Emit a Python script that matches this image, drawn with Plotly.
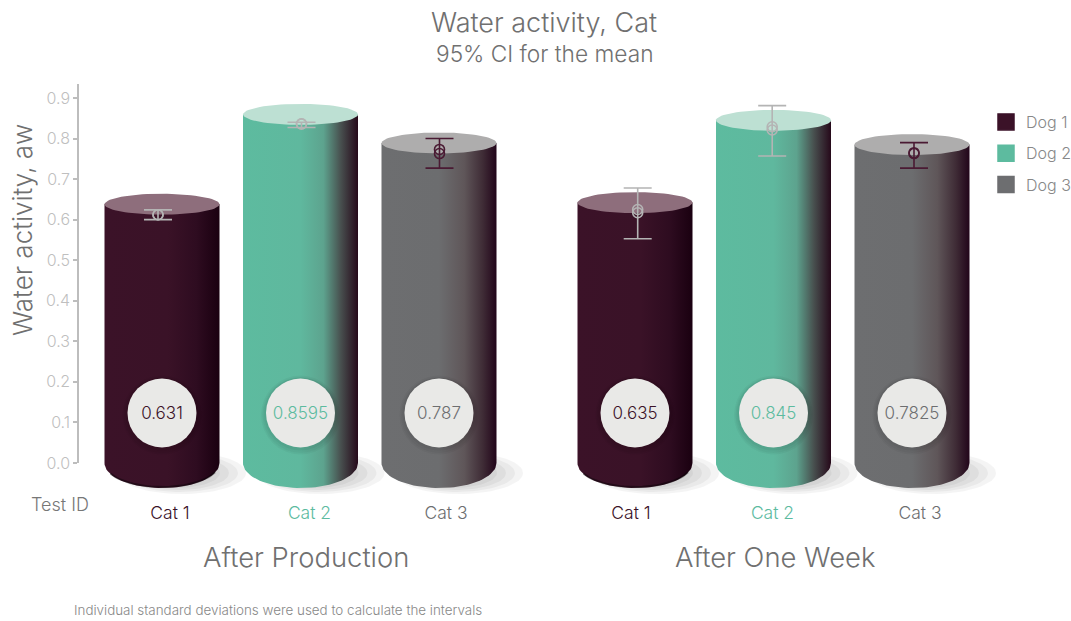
import numpy as np
import plotly.graph_objects as go

# ---- data -------------------------------------------------------------
groups = ["After Production", "After One Week"]
categories = ["Cat 1", "Cat 2", "Cat 3"]
series = ["Dog 1", "Dog 2", "Dog 3"]
labels_dog1 = [0.631, 0.635]
labels_dog2 = [0.8595, 0.845]
labels_dog3 = [0.787, 0.7825]
heights_dog1 = [0.638, 0.642]
heights_dog2 = [0.8595, 0.845]
heights_dog3 = [0.789, 0.785]
upper_dog1 = [0.624, 0.678]
upper_dog2 = [0.840, 0.881]
upper_dog3 = [0.800, 0.790]
lower_dog1 = [0.600, 0.553]
lower_dog2 = [0.827, 0.757]
lower_dog3 = [0.727, 0.727]
mean_a_dog1 = [0.612, 0.625]
mean_a_dog2 = [0.836, 0.829]
mean_a_dog3 = [0.773, 0.765]
mean_b_dog1 = [0.612, 0.617]
mean_b_dog2 = [0.836, 0.821]
mean_b_dog3 = [0.763, 0.763]
y_ticks = [0.0, 0.1, 0.2, 0.3, 0.4, 0.5, 0.6, 0.7, 0.8, 0.9]

# ---- styling ----------------------------------------------------------
FONT = "Inter"
DARK, GREEN, GRAY = "#3b1228", "#5dbb9f", "#6d6e70"
colors = [DARK, GREEN, GRAY]
top_colors = ["#8e6e7c", "#bde0d3", "#aeadad"]
err_colors = ["#b4b4b4", "#b4b4b4", "#4a1a33"]
gradients = [
    [[0, "#3b1228"], [0.55, "#3a1227"], [0.8, "#2e0c20"], [1, "#1a0010"]],
    [[0, "#5dbb9f"], [0.5, "#5fb89e"], [0.7, "#5da38e"], [0.85, "#48504f"], [1, "#26091a"]],
    [[0, "#6d6e70"], [0.5, "#6c6d6f"], [0.72, "#5f5659"], [0.88, "#3f2c36"], [1, "#22051a"]],
]
H, W = 621, 1071
LEFT, TOP, ZERO = 79, 84, 463   # page pixels of the plot's left, top and y=0
PPU = 405.6       # pixels per y unit
HALF_W = 57.5     # cylinder half width in x units (px)
RY_TOP, RY_BOT = 10.5, 25.0
group_start = [162, 635]
step = 138.5
err_off = [[-4, 1, 0.5], [2.7, -1.3, 2]]
label_off = [[8, 9, 7], [-4, -1, 8]]

labels = [labels_dog1, labels_dog2, labels_dog3]
heights = [heights_dog1, heights_dog2, heights_dog3]
upper = [upper_dog1, upper_dog2, upper_dog3]
lower = [lower_dog1, lower_dog2, lower_dog3]
mean_a = [mean_a_dog1, mean_a_dog2, mean_a_dog3]
mean_b = [mean_b_dog1, mean_b_dog2, mean_b_dog3]

fig = go.Figure()
t = np.linspace(0, 2 * np.pi, 73)
arc = np.linspace(0, np.pi, 49)

def py(pixel):
    """y value of a page pixel row."""
    return (ZERO - pixel) / PPU

def paper_y(pixel):
    return (H - pixel) / (H - TOP)

def paper_x(pixel):
    return (pixel - LEFT) / (W - LEFT)

# shadows
for g in range(2):
    for s in range(3):
        cx = group_start[g] + s * step
        for rx, ry, dx in [(64, 21, 20), (58, 19, 18), (51, 17, 16), (44, 15, 14)]:
            fig.add_trace(go.Scatter(
                x=cx + dx + rx * np.cos(t), y=py(473) + ry / PPU * np.sin(t),
                mode="lines", line=dict(width=0), fill="toself",
                fillcolor="rgba(0,0,0,0.045)", hoverinfo="skip", showlegend=False))

# cylinders
for g in range(2):
    for s in range(3):
        cx = group_start[g] + s * step
        v = heights[s][g]
        xs = np.r_[cx - HALF_W, cx + HALF_W, cx + HALF_W * np.cos(arc), cx - HALF_W]
        ys = np.r_[v, v, -RY_BOT / PPU * np.sin(arc), v]
        fig.add_trace(go.Scatter(
            x=xs, y=ys, mode="lines", line=dict(width=0), fill="toself",
            fillgradient=dict(type="horizontal", colorscale=gradients[s],
                              start=cx - HALF_W, stop=cx + HALF_W),
            hoverinfo="skip", showlegend=False))
        fig.add_trace(go.Scatter(
            x=cx + HALF_W * np.cos(t), y=v + RY_TOP / PPU * np.sin(t),
            mode="lines", line=dict(width=0), fill="toself",
            fillcolor=top_colors[s], hoverinfo="skip", showlegend=False))
        if s == 0:  # darker rim along the lower edge of the dark cylinders
            rim = arc[6:42]
            fig.add_trace(go.Scatter(
                x=cx + HALF_W * np.cos(rim), y=-(RY_BOT - 1) / PPU * np.sin(rim),
                mode="lines", line=dict(width=2, color="rgba(0,0,0,0.4)"),
                hoverinfo="skip", showlegend=False))

# error bars with two mean rings, value badges, category labels
for s in range(3):
    xc = [group_start[g] + s * step for g in range(2)]
    xe = [xc[g] + err_off[g][s] for g in range(2)]
    fig.add_trace(go.Scatter(
        x=xe, y=mean_a[s], mode="markers", showlegend=False,
        marker=dict(symbol="circle-open", size=10, color=err_colors[s], line=dict(width=1.6)),
        error_y=dict(type="data", symmetric=False, color=err_colors[s], thickness=1.6, width=14,
                     array=[upper[s][g] - mean_a[s][g] for g in range(2)],
                     arrayminus=[mean_a[s][g] - lower[s][g] for g in range(2)])))
    fig.add_trace(go.Scatter(
        x=xe, y=mean_b[s], mode="markers", showlegend=False,
        marker=dict(symbol="circle-open", size=10, color=err_colors[s], line=dict(width=1.6))))
    # badge shadow
    for size, off in [(79, 2), (76, 2), (73, 1)]:
        fig.add_trace(go.Scatter(
            x=xc, y=[py(413 + off)] * 2, mode="markers", showlegend=False,
            hoverinfo="skip", marker=dict(size=size, color="rgba(0,0,0,0.035)", line=dict(width=0))))
    fig.add_trace(go.Scatter(
        x=xc, y=[py(413)] * 2, mode="markers", showlegend=False,
        marker=dict(size=69, color="#e9e9e7", line=dict(width=0))))
    fig.add_trace(go.Scatter(
        x=xc, y=[py(415)] * 2, mode="text", showlegend=False,
        text=[str(v) for v in labels[s]], textposition="middle center",
        textfont=dict(family=FONT, size=17, color=colors[s], weight=300)))
    fig.add_trace(go.Scatter(
        x=[xc[g] + label_off[g][s] for g in range(2)], y=[py(515)] * 2,
        mode="text", showlegend=False,
        text=[categories[s]] * 2, textposition="middle center",
        textfont=dict(family=FONT, size=17.5, color=colors[s], weight=300)))
    # legend key
    fig.add_trace(go.Scatter(
        x=[None], y=[None], mode="markers", name=series[s], legendgroup=series[s],
        marker=dict(symbol="square", size=16, color=colors[s], line=dict(width=1.5, color=colors[s]))))

# real axis: a second y axis that covers only the part of the plot above y=0
fig.add_trace(go.Scatter(x=[None], y=[None], yaxis="y2", showlegend=False, hoverinfo="skip"))

annotations = [
    dict(x=544, y=53, text="95% CI for the mean", font=dict(size=22.7, color="#707070", weight=300)),
    dict(x=22, y=230, text="Water activity, aw", textangle=-90, font=dict(size=26, color="#707070", weight=300)),
    dict(x=60, y=504, text="Test ID", font=dict(size=18, color="#777777", weight=300)),
    dict(x=306, y=557, text=groups[0], font=dict(size=27.4, color="#707070", weight=300)),
    dict(x=775, y=557, text=groups[1], font=dict(size=27.4, color="#707070", weight=300)),
    dict(x=278, y=610, text="Individual standard deviations were used to calculate the intervals",
         font=dict(size=13.4, color="#888888", weight=300)),
]
for a in annotations:
    a["x"], a["y"] = paper_x(a["x"]), paper_y(a["y"])
    a.update(xref="paper", yref="paper", showarrow=False, xanchor="center", yanchor="middle")
    a["font"]["family"] = FONT

fig.update_layout(
    width=W, height=H, autosize=False,
    margin=dict(l=LEFT, r=0, t=TOP, b=0, pad=0, autoexpand=False),
    paper_bgcolor="white", plot_bgcolor="rgba(0,0,0,0)",
    font=dict(family=FONT),
    title=dict(text="Water activity, Cat", x=544 / W, xanchor="center",
               y=1 - 23 / H, yanchor="middle",
               font=dict(family=FONT, size=27, color="#707070", weight=300)),
    xaxis=dict(range=[LEFT, W], visible=False, fixedrange=True),
    yaxis=dict(range=[py(H), py(TOP)], visible=False, fixedrange=True),
    yaxis2=dict(domain=[(H - ZERO) / (H - TOP), 1], anchor="x", range=[0, py(TOP)],
                tickvals=y_ticks, ticktext=[f"{v:.1f}" for v in y_ticks], fixedrange=True,
                showgrid=False, zeroline=False, showline=True, linecolor="#bdbdbd", linewidth=1.5,
                ticks="outside", ticklen=4, tickcolor="#bdbdbd", tickwidth=1.5,
                tickfont=dict(family=FONT, size=16, color="#bfbfbf", weight=300)),
    legend=dict(x=paper_x(986), xanchor="left", y=paper_y(105), yanchor="top",
                tracegroupgap=7.5, itemwidth=30, entrywidth=45, bgcolor="rgba(0,0,0,0)",
                font=dict(family=FONT, size=16, color="#888888", weight=300)),
    annotations=annotations,
)
fig.write_html("out.html", config={"displayModeBar": False},
               post_script="document.body.style.margin='0';")
